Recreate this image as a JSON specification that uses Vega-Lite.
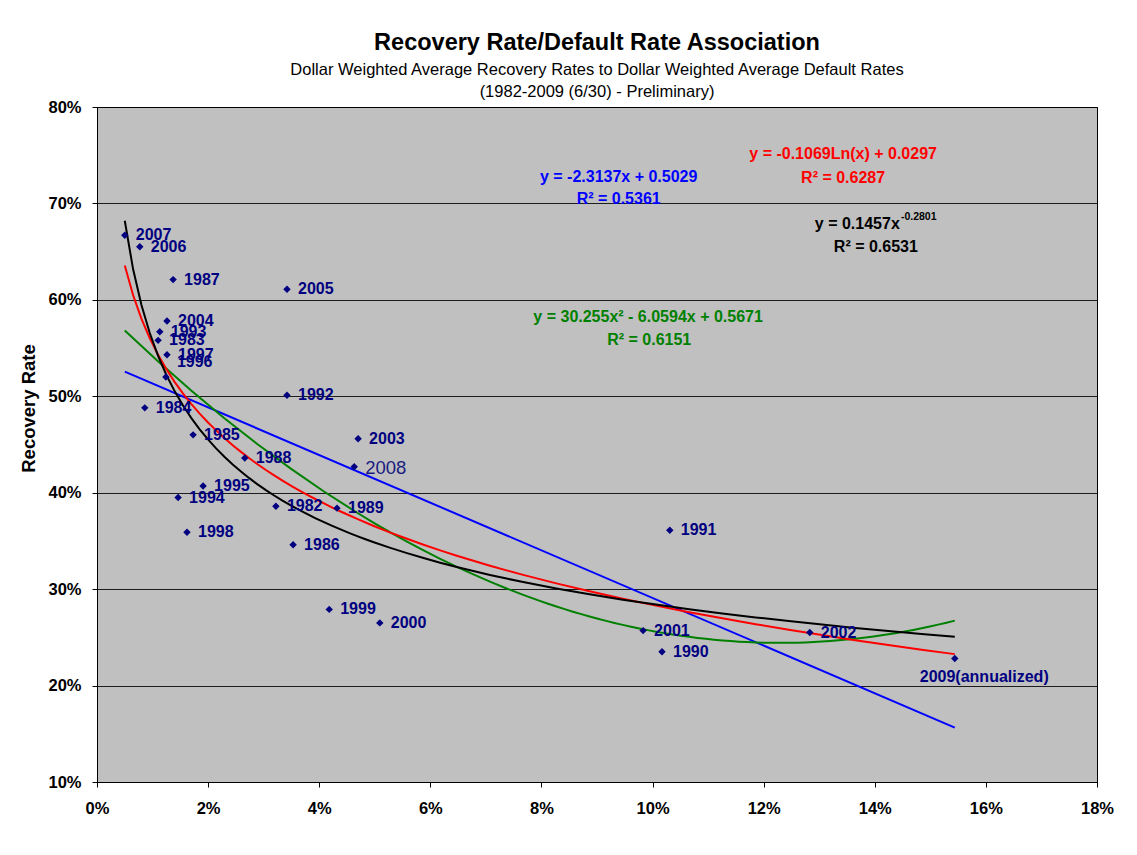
{
  "$schema": "https://vega.github.io/schema/vega-lite/v6.json",
  "width": 1000,
  "height": 675,
  "autosize": {"type": "none"},
  "padding": {"left": 97, "top": 107, "right": 40, "bottom": 73},
  "background": "#FFFFFF",
  "title": {
    "text": "Recovery Rate/Default Rate Association",
    "subtitle": ["Dollar Weighted Average Recovery Rates to Dollar Weighted Average Default Rates", "(1982-2009 (6/30) - Preliminary)"],
    "anchor": "middle",
    "font": "Liberation Sans",
    "fontSize": 23.5,
    "fontWeight": "bold",
    "color": "#000000",
    "subtitleFont": "Liberation Sans",
    "subtitleFontSize": 16.5,
    "subtitleColor": "#000000",
    "subtitleLineHeight": 22,
    "subtitlePadding": 7,
    "offset": -1
  },
  "config": {
    "view": {"fill": "#C0C0C0", "stroke": "#000000", "strokeWidth": 1},
    "axis": {
      "labelFont": "Liberation Sans",
      "labelFontWeight": "bold",
      "labelFontSize": 16.5,
      "labelColor": "#000000",
      "labelFlush": false,
      "titleFont": "Liberation Sans",
      "titleFontWeight": "bold",
      "titleColor": "#000000",
      "domainColor": "#000000",
      "tickColor": "#000000",
      "tickSize": 5
    }
  },
  "datasets": {
    "points": [
      {"year": "1982", "label": "1982", "default_rate": 0.0322, "recovery_rate": 0.386},
      {"year": "1983", "label": "1983", "default_rate": 0.0110, "recovery_rate": 0.558},
      {"year": "1984", "label": "1984", "default_rate": 0.0086, "recovery_rate": 0.488},
      {"year": "1985", "label": "1985", "default_rate": 0.0173, "recovery_rate": 0.460},
      {"year": "1986", "label": "1986", "default_rate": 0.0353, "recovery_rate": 0.346},
      {"year": "1987", "label": "1987", "default_rate": 0.0137, "recovery_rate": 0.621},
      {"year": "1988", "label": "1988", "default_rate": 0.0266, "recovery_rate": 0.436},
      {"year": "1989", "label": "1989", "default_rate": 0.0432, "recovery_rate": 0.384},
      {"year": "1990", "label": "1990", "default_rate": 0.1017, "recovery_rate": 0.235},
      {"year": "1991", "label": "1991", "default_rate": 0.1031, "recovery_rate": 0.361},
      {"year": "1992", "label": "1992", "default_rate": 0.0342, "recovery_rate": 0.501},
      {"year": "1993", "label": "1993", "default_rate": 0.0113, "recovery_rate": 0.567},
      {"year": "1994", "label": "1994", "default_rate": 0.0146, "recovery_rate": 0.395},
      {"year": "1995", "label": "1995", "default_rate": 0.0191, "recovery_rate": 0.407},
      {"year": "1996", "label": "1996", "default_rate": 0.0124, "recovery_rate": 0.520},
      {"year": "1997", "label": "1997", "default_rate": 0.0126, "recovery_rate": 0.543},
      {"year": "1998", "label": "1998", "default_rate": 0.0162, "recovery_rate": 0.359},
      {"year": "1999", "label": "1999", "default_rate": 0.0418, "recovery_rate": 0.279},
      {"year": "2000", "label": "2000", "default_rate": 0.0509, "recovery_rate": 0.265},
      {"year": "2001", "label": "2001", "default_rate": 0.0983, "recovery_rate": 0.257},
      {"year": "2002", "label": "2002", "default_rate": 0.1283, "recovery_rate": 0.255},
      {"year": "2003", "label": "2003", "default_rate": 0.0470, "recovery_rate": 0.456},
      {"year": "2004", "label": "2004", "default_rate": 0.0126, "recovery_rate": 0.578},
      {"year": "2005", "label": "2005", "default_rate": 0.0342, "recovery_rate": 0.611},
      {"year": "2006", "label": "2006", "default_rate": 0.0077, "recovery_rate": 0.655},
      {"year": "2007", "label": "2007", "default_rate": 0.0050, "recovery_rate": 0.667},
      {"year": "2008", "label": "2008", "default_rate": 0.0463, "recovery_rate": 0.427},
      {"year": "2009", "label": "2009(annualized)", "default_rate": 0.1544, "recovery_rate": 0.228}
    ],
    "equations": [
      {"fit": "linear", "text": "y = -2.3137x + 0.5029", "x": 0.0939, "y": 0.7274},
      {"fit": "linear", "text": "R² = 0.5361", "x": 0.0939, "y": 0.7046},
      {"fit": "log", "text": "y = -0.1069Ln(x) + 0.0297", "x": 0.1343, "y": 0.7513},
      {"fit": "log", "text": "R² = 0.6287", "x": 0.1343, "y": 0.7267},
      {"fit": "pow", "text": "R² = 0.6531", "x": 0.1402, "y": 0.6551},
      {"fit": "poly", "text": "y = 30.255x² - 6.0594x + 0.5671", "x": 0.0992, "y": 0.5822},
      {"fit": "poly", "text": "R² = 0.6151", "x": 0.0994, "y": 0.5584}
    ],
    "pow_equation": [
      {"text": "y = 0.1457x", "x": 0.1445, "y": 0.6787}
    ],
    "pow_exponent": [
      {"text": "-0.2801", "x": 0.1447, "y": 0.6862}
    ]
  },
  "encoding": {
    "x": {"field": "default_rate", "type": "quantitative", "scale": {"domain": [0, 0.18], "nice": false, "zero": false},
      "axis": {"values": [0, 0.02, 0.04, 0.06, 0.08, 0.1, 0.12, 0.14, 0.16, 0.18], "format": ".0%", "title": null, "grid": false, "labelPadding": 13}},
    "y": {"field": "recovery_rate", "type": "quantitative", "scale": {"domain": [0.1, 0.8], "nice": false, "zero": false},
      "axis": {"values": [0.1, 0.2, 0.3, 0.4, 0.5, 0.6, 0.7, 0.8], "format": ".0%", "title": "Recovery Rate", "titleFontSize": 18.5, "titlePadding": 9, "titleY": 301, "titleAlign": "center", "labelPadding": 11, "grid": true, "gridColor": "#000000", "gridOpacity": 0.85}}
  },
  "layer": [
    {
      "data": {"name": "points"},
      "transform": [{"regression": "recovery_rate", "on": "default_rate", "method": "linear"}],
      "mark": {"type": "line", "color": "#0000FF", "strokeWidth": 2}
    },
    {
      "data": {"name": "points"},
      "transform": [{"regression": "recovery_rate", "on": "default_rate", "method": "poly", "order": 2}],
      "mark": {"type": "line", "color": "#008000", "strokeWidth": 2}
    },
    {
      "data": {"name": "points"},
      "transform": [{"regression": "recovery_rate", "on": "default_rate", "method": "log"}],
      "mark": {"type": "line", "color": "#FF0000", "strokeWidth": 2}
    },
    {
      "data": {"name": "points"},
      "transform": [{"regression": "recovery_rate", "on": "default_rate", "method": "pow"}],
      "mark": {"type": "line", "color": "#000000", "strokeWidth": 2}
    },
    {
      "data": {"name": "points"},
      "mark": {"type": "point", "shape": "diamond", "filled": true, "color": "#000080", "size": 55, "opacity": 1}
    },
    {
      "data": {"name": "points"},
      "transform": [{"filter": "datum.year != '1996' && datum.year != '2008' && datum.year != '2009'"}],
      "mark": {"type": "text", "align": "left", "baseline": "middle", "dx": 11, "font": "Liberation Sans", "fontWeight": "bold", "fontSize": 16, "color": "#000080"},
      "encoding": {"text": {"field": "label"}}
    },
    {
      "data": {"name": "points"},
      "transform": [{"filter": "datum.year == '1996'"}],
      "mark": {"type": "text", "align": "left", "baseline": "middle", "dx": 11, "dy": -15, "font": "Liberation Sans", "fontWeight": "bold", "fontSize": 16, "color": "#000080"},
      "encoding": {"text": {"field": "label"}}
    },
    {
      "data": {"name": "points"},
      "transform": [{"filter": "datum.year == '2008'"}],
      "mark": {"type": "text", "align": "left", "baseline": "middle", "dx": 11, "dy": 1, "font": "Liberation Sans", "fontWeight": "normal", "fontSize": 18.5, "color": "#1A1A80"},
      "encoding": {"text": {"field": "label"}}
    },
    {
      "data": {"name": "points"},
      "transform": [{"filter": "datum.year == '2009'"}],
      "mark": {"type": "text", "align": "left", "baseline": "middle", "dx": -35, "dy": 18, "font": "Liberation Sans", "fontWeight": "bold", "fontSize": 16, "color": "#000080"},
      "encoding": {"text": {"field": "label"}}
    },
    {
      "data": {"name": "equations"},
      "mark": {"type": "text", "align": "center", "baseline": "middle", "font": "Liberation Sans", "fontWeight": "bold", "fontSize": 16},
      "encoding": {
        "x": {"field": "x", "type": "quantitative"},
        "y": {"field": "y", "type": "quantitative"},
        "text": {"field": "text"},
        "color": {"field": "fit", "type": "nominal", "scale": {"domain": ["linear", "log", "pow", "poly"], "range": ["#0000FF", "#FF0000", "#000000", "#008000"]}, "legend": null}
      }
    },
    {
      "data": {"name": "pow_equation"},
      "mark": {"type": "text", "align": "right", "baseline": "middle", "font": "Liberation Sans", "fontWeight": "bold", "fontSize": 16, "color": "#000000"},
      "encoding": {
        "x": {"field": "x", "type": "quantitative"},
        "y": {"field": "y", "type": "quantitative"},
        "text": {"field": "text"}
      }
    },
    {
      "data": {"name": "pow_exponent"},
      "mark": {"type": "text", "align": "left", "baseline": "middle", "font": "Liberation Sans", "fontWeight": "bold", "fontSize": 10.5, "color": "#000000"},
      "encoding": {
        "x": {"field": "x", "type": "quantitative"},
        "y": {"field": "y", "type": "quantitative"},
        "text": {"field": "text"}
      }
    }
  ]
}
